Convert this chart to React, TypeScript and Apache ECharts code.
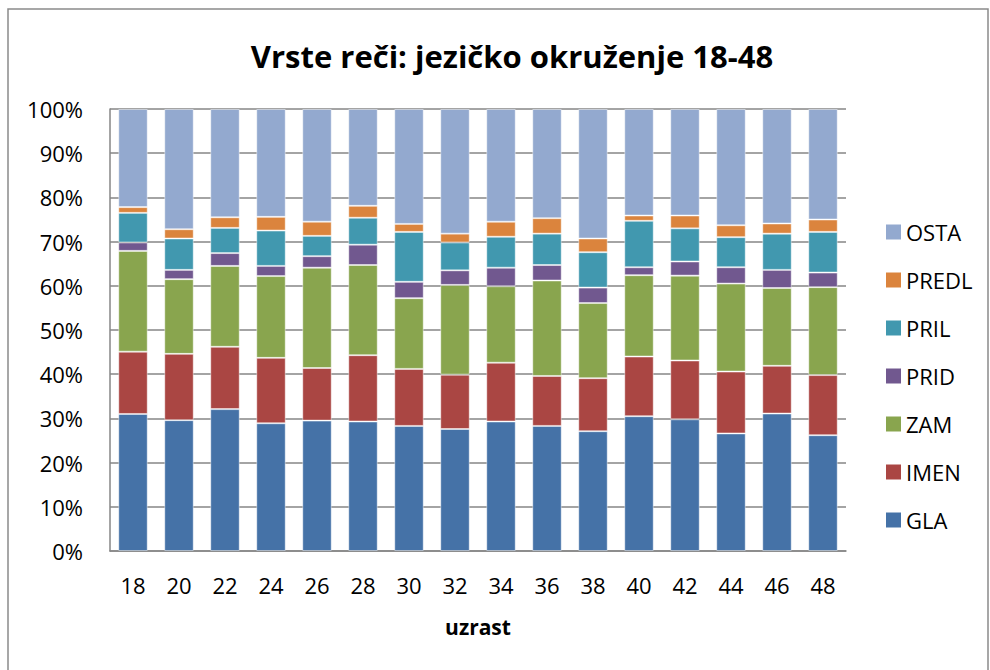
import React, { useEffect, useRef } from "react";
import * as echarts from "echarts";

const categories = ["18", "20", "22", "24", "26", "28", "30", "32", "34", "36", "38", "40", "42", "44", "46", "48"];
const GLA = [31.0, 29.6, 32.1, 28.9, 29.5, 29.3, 28.3, 27.6, 29.3, 28.3, 27.1, 30.5, 29.8, 26.6, 31.1, 26.2];
const IMEN = [14.1, 15.0, 14.1, 14.8, 11.9, 15.0, 12.9, 12.3, 13.3, 11.3, 12.0, 13.5, 13.3, 14.0, 10.8, 13.6];
const ZAM = [22.8, 16.9, 18.3, 18.5, 22.7, 20.4, 16.0, 20.3, 17.3, 21.6, 17.0, 18.4, 19.2, 19.9, 17.6, 19.9];
const PRID = [1.9, 2.1, 2.9, 2.3, 2.6, 4.6, 3.7, 3.3, 4.2, 3.5, 3.5, 1.8, 3.2, 3.7, 4.1, 3.3];
const PRIL = [6.7, 7.1, 5.7, 8.0, 4.6, 6.1, 11.3, 6.3, 7.0, 7.1, 8.0, 10.5, 7.5, 6.8, 8.2, 9.2];
const PREDL = [1.3, 2.1, 2.4, 3.1, 3.2, 2.7, 1.8, 2.0, 3.4, 3.5, 3.1, 1.2, 2.9, 2.7, 2.3, 2.8];
const OSTA = [22.2, 27.2, 24.5, 24.4, 25.5, 21.9, 26.0, 28.2, 25.5, 24.7, 29.3, 24.1, 24.1, 26.3, 25.9, 25.0];

const seriesNames = ["GLA", "IMEN", "ZAM", "PRID", "PRIL", "PREDL", "OSTA"];
const seriesData = [GLA, IMEN, ZAM, PRID, PRIL, PREDL, OSTA];
const colors = ["#4572A7", "#AA4643", "#89A54E", "#71588F", "#4198AF", "#DB843D", "#93A9CF"];
const yTicks = [0, 10, 20, 30, 40, 50, 60, 70, 80, 90, 100];

const FONT = "'Open Sans', 'Noto Sans', sans-serif";

export default function App() {
  const ref = useRef<HTMLDivElement>(null);
  useEffect(() => {
    if (!ref.current) return;
    const chart = echarts.init(ref.current, null, { renderer: "svg" });
    chart.setOption({
      animation: false,
      backgroundColor: "#ffffff",
      color: colors,
      title: {
        text: "Vrste reči: jezičko okruženje 18-48",
        left: 507,
        textAlign: "center",
        top: 35,
        textStyle: { fontFamily: FONT, fontSize: 31, fontWeight: "bold", color: "#000" },
      },
      graphic: [
        {
          type: "rect",
          shape: { x: 8, y: 9, width: 980, height: 700 },
          style: { fill: "none", stroke: "#8a8a8a", lineWidth: 1.5 },
          silent: true,
        },
      ],
      legend: {
        orient: "vertical",
        left: 881,
        top: 216,
        itemWidth: 15,
        itemHeight: 15,
        itemGap: 26,
        icon: "rect",
        data: ["OSTA", "PREDL", "PRIL", "PRID", "ZAM", "IMEN", "GLA"],
        textStyle: { fontFamily: FONT, fontSize: 22, color: "#000", lineHeight: 22, padding: [0, 0, 0, 0] },
        itemStyle: { borderWidth: 0 },
      },
      grid: { left: 110, right: 144, top: 109, bottom: 119, containLabel: false },
      xAxis: {
        type: "category",
        data: categories,
        name: "uzrast",
        nameLocation: "middle",
        nameGap: 65,
        nameTextStyle: { fontFamily: FONT, fontSize: 21, fontWeight: "bold", color: "#000" },
        axisLine: { lineStyle: { color: "#868686", width: 1.5 } },
        axisTick: { show: false },
        axisLabel: { fontFamily: FONT, fontSize: 22, color: "#000", margin: 23 },
      },
      yAxis: {
        type: "value",
        min: 0,
        max: 100,
        interval: 10,
        axisLine: { show: true, lineStyle: { color: "#868686", width: 1.5 } },
        axisTick: { show: false },
        splitLine: { lineStyle: { color: "#868686", width: 1.5 } },
        axisLabel: {
          fontFamily: FONT,
          fontSize: 22,
          color: "#000",
          margin: 27,
          formatter: (v: number) => (yTicks.includes(v) ? v + "%" : ""),
        },
      },
      series: seriesNames.map((name, i) => ({
        name,
        type: "bar",
        stack: "total",
        barWidth: "64%",
        data: seriesData[i],
        itemStyle: { color: colors[i], borderColor: "rgba(255,255,255,0.45)", borderWidth: 1 },
      })),
    });
    return () => chart.dispose();
  }, []);
  return <div ref={ref} style={{ position: "absolute", left: 0, top: 0, width: 990, height: 670 }} />;
}
